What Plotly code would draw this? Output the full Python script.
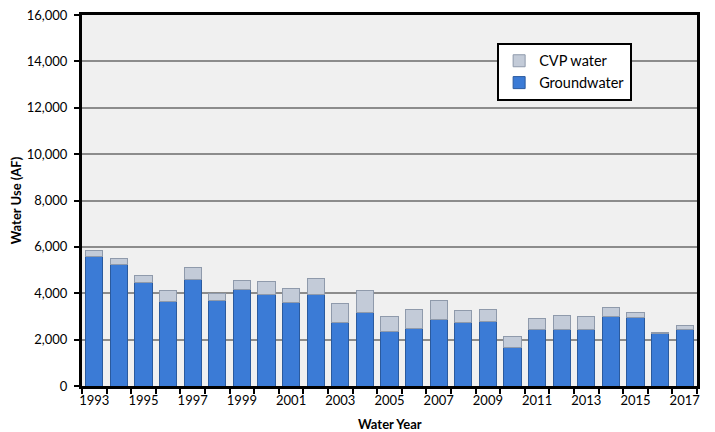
import plotly.graph_objects as go

years = list(range(1993, 2018))
groundwater = [5600, 5250, 4450, 3650, 4600, 3700, 4150, 3950, 3600, 3950,
               2750, 3150, 2350, 2500, 2850, 2750, 2800, 1650, 2450, 2450,
               2450, 3000, 2950, 2250, 2450]
total_use = [5850, 5500, 4750, 4100, 5100, 4000, 4550, 4500, 4200, 4650,
             3550, 4100, 3000, 3300, 3700, 3250, 3300, 2150, 2900, 3050,
             3000, 3400, 3150, 2300, 2600]
cvp_water = [t - g for t, g in zip(total_use, groundwater)]

label_years = [y for y in years if y % 2 == 1]
y_ticks = list(range(0, 16001, 2000))

font_name = "Lato, Liberation Sans, sans-serif"

fig = go.Figure()
fig.add_trace(go.Bar(
    x=years, y=groundwater, name="Groundwater", legendgroup="gw",
    marker=dict(color="#3b7bd6", line=dict(color="#2a5a9e", width=1)),
    width=0.7,
))
fig.add_trace(go.Bar(
    x=years, y=cvp_water, name="CVP water", legendgroup="cvp",
    marker=dict(color="#c3cbd8", line=dict(color="#8f9aab", width=1)),
    width=0.7,
))

# the page body adds an 8px offset, so margins are trimmed by that much
fig.update_layout(
    barmode="stack",
    width=715, height=432,
    margin=dict(l=74, r=26, t=7, b=54),
    paper_bgcolor="white",
    plot_bgcolor="#f0f0f0",
    font=dict(family=font_name, size=13, color="black"),
    legend=dict(
        x=0.675, y=0.925, xanchor="left", yanchor="top",
        traceorder="reversed",
        bgcolor="white", bordercolor="black", borderwidth=2,
        font=dict(size=14.5),
        tracegroupgap=7, itemwidth=30,
    ),
)
# x title as an annotation so it can sit a bit lower
fig.add_annotation(
    text="<b>Water Year</b>", xref="paper", yref="paper",
    x=0.5, y=-0.102, xanchor="center", yanchor="middle",
    showarrow=False, font=dict(size=13),
)
fig.update_xaxes(
    range=[1992.5, 2017.5],
    tickvals=label_years, ticklen=0,
    minor=dict(tickmode="linear", tick0=1992.5, dtick=1, ticks="outside",
               ticklen=5, tickwidth=2, tickcolor="black", showgrid=False),
    showgrid=False,
    showline=True, linewidth=3, linecolor="black", mirror=True,
    tickfont=dict(size=13),
    automargin=False,
)
fig.update_yaxes(
    range=[0, 16000],
    tickvals=y_ticks, tickformat=",",
    ticks="outside", ticklen=5, tickwidth=2, tickcolor="black",
    ticklabelstandoff=4, ticklabeloverflow="allow",
    showgrid=True, gridcolor="#8c8c8c", gridwidth=2,
    zeroline=False,
    showline=True, linewidth=3, linecolor="black", mirror=True,
    title=dict(text="<b>Water Use (AF)</b>", font=dict(size=13), standoff=3),
    tickfont=dict(size=13),
    automargin=False,
)

fig.write_html("out.html")
